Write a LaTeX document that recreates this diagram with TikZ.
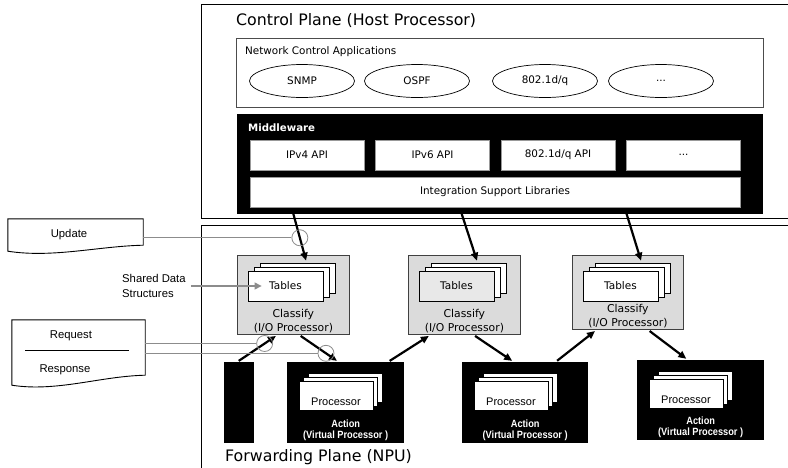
\documentclass[tikz,border=0pt]{standalone}
\usepackage{fontspec}
\setmainfont{DejaVu Sans}
\newfontfamily\arialfont{Liberation Sans}
\newfontfamily\narrowfont[FakeStretch=0.88]{Liberation Sans}
\usepackage{tikz}
\usetikzlibrary{calc}
\usetikzlibrary{arrows.meta}
\usetikzlibrary{shapes.geometric}
\newcommand{\docoutline}[2]{%
  \draw[docline] (#1.north west) -- (#1.north east) -- ([yshift=#2]#1.south east)
    .. controls +(-45,1) and +(45,7) .. (#1.south west) -- cycle;}
\newcommand{\tablestack}[3]{%
  \node[sheet] (#1-back) at ($(#2)+(60.5,23)$) {};
  \node[sheet] (#1-mid) at ($(#2)+(54.5,27)$) {};
  \node[sheet, fill=#3] (#1) at ($(#2)+(48.5,31)$) {Tables};}
\newcommand{\procstack}[2]{%
  \node[procsheet] (#1-back) at ($(#2)+(58,25.5)$) {};
  \node[procsheet] (#1-mid) at ($(#2)+(53.5,29.5)$) {};
  \node[procsheet] (#1) at ($(#2)+(49,33.5)$) {Processor};}
\tikzset{
    plane/.style={draw, line width=1.1pt, anchor=north west, inner sep=0},
    heading/.style={anchor=west, inner sep=0, font=\fontsize{15.8}{18}\selectfont},
    small/.style={font=\fontsize{10.4}{12}\selectfont},
    appbox/.style={draw=black!70, line width=0.9pt, anchor=north west},
    app/.style={small, draw, ellipse, line width=0.7pt, minimum width=105, minimum height=33},
    mwbox/.style={fill=black, anchor=north west},
    mwtitle/.style={anchor=west, inner sep=0, text=white, font=\fontsize{10.2}{12}\selectfont\bfseries},
    api/.style={small, fill=white, draw=black!40, line width=0.8pt, minimum width=114, minimum height=30},
    clstext/.style={anchor=south, align=center, inner sep=2pt, font=\fontsize{10.8}{14}\selectfont},
    clsbox/.style={draw=black!75, fill=black!14, line width=0.8pt, anchor=north west,
        label={[clstext]south:Classify\\(I/O Processor)}},
    sheet/.style={draw, fill=white, line width=0.8pt, minimum width=75, minimum height=30,
        font=\fontsize{10.5}{12}\selectfont},
    procsheet/.style={draw, fill=white, line width=0.8pt, minimum width=74, minimum height=29,
        inner ysep=2.5pt, text height=22pt, text depth=2pt, font=\arialfont\fontsize{11}{13}\selectfont},
    actbox/.style={fill=black, anchor=north west},
    acttext/.style={anchor=south, align=center, inner sep=3pt, text=white,
        font=\narrowfont\bfseries\fontsize{10.5}{11}\selectfont},
    action/.style={actbox, label={[acttext]south:Action\\(Virtual Processor )}},
    docbox/.style={inner sep=0},
    docline/.style={draw, line width=0.9pt},
    doctext/.style={font=\arialfont\fontsize{11.3}{15}\selectfont},
    flow/.style={line width=2.2pt, -{Triangle[length=8pt,width=7pt]}, shorten <=2pt, shorten >=2pt},
    feed/.style={draw=black!45, line width=1.1pt},
    hop/.style={draw=black!45, circle, line width=0.8pt, minimum size=16, inner sep=0}
}
\begin{document}
\begin{tikzpicture}[x=1pt, y=-1pt]
\useasboundingbox (0,0) rectangle (788,467);
\clip (0,0) rectangle (788,467);

% planes
\node[plane, minimum width=620, minimum height=214] (cp) at (201,4) {};
\node[plane, minimum width=620, minimum height=280] (fp) at (201,225) {};
\node[heading] (cp-title) at (236,21) {Control Plane (Host Processor)};
\node[heading] (fp-title) at (225,457) {Forwarding Plane (NPU)};

% control applications
\node[appbox, minimum width=527, minimum height=69] (nca) at (236,38) {};
\node[small, anchor=west, inner sep=0] (nca-title) at (245,52) {Network Control Applications};
\path
    (302,81) node[app] (snmp) {SNMP}
    ++(115,0) node[app] (ospf) {OSPF}
    ++(128,0) node[app] (dotq) {802.1d/q}
    ++(116,0) node[app] (more-app) {...};

% middleware
\node[mwbox, minimum width=526, minimum height=100] (mw) at (237,114) {};
\node[mwtitle] (mw-title) at (248,128) {Middleware};
\path
    (307,155) node[api] (ipv4) {IPv4 API}
    ++(125.5,0) node[api] (ipv6) {IPv6 API}
    ++(125.5,0) node[api] (dotq-api) {802.1d/q API}
    ++(125.5,0) node[api] (more-api) {...};
\node[api, minimum width=490] (isl) at (495,192) {Integration Support Libraries};

% classify blocks
\node[clsbox, minimum width=112, minimum height=79] (cls1) at (237,255) {};
\node[clsbox, minimum width=112, minimum height=79] (cls2) at (408,255) {};
\node[clsbox, minimum width=111, minimum height=74] (cls3) at (572,255) {};
\tablestack{tbl1}{cls1.north west}{white}
\tablestack{tbl2}{cls2.north west}{black!9}
\tablestack{tbl3}{cls3.north west}{white}

% action blocks
\node[actbox, minimum width=30, minimum height=81] (act0) at (224,362) {};
\node[action, minimum width=117, minimum height=81] (act1) at (287,362) {};
\node[action, minimum width=126, minimum height=81] (act2) at (462,362) {};
\node[action, minimum width=127, minimum height=80] (act3) at (637,360) {};
\procstack{proc1}{act1.north west}
\procstack{proc2}{act2.north west}
\procstack{proc3}{act3.north west}

% flows
\draw[flow] ($(isl.south west)+(42,0)$) -- coordinate[pos=0.55] (hop-upd)
    ($(tbl1-back.north west)!0.62!(tbl1-back.north east)$);
\draw[flow] ($(isl.south west)+(210,0)$) -- ($(tbl2-back.north west)!0.62!(tbl2-back.north east)$);
\draw[flow] ($(isl.south west)+(375,0)$) -- ($(tbl3-back.north west)!0.62!(tbl3-back.north east)$);

\draw[flow] ($(act0.north west)!0.43!(act0.north east)$) -- coordinate[pos=0.68] (hop-req)
    ($(cls1.south west)!0.36!(cls1.south east)$);
\draw[flow] ($(cls1.south west)!0.55!(cls1.south east)$) -- coordinate[pos=0.68] (hop-resp)
    ($(act1.north west)!0.44!(act1.north east)$);
\draw[flow] ($(act1.north west)!0.86!(act1.north east)$) -- ($(cls2.south west)!0.2!(cls2.south east)$);
\draw[flow] ($(cls2.south west)!0.58!(cls2.south east)$) -- ($(act2.north west)!0.41!(act2.north east)$);
\draw[flow] ($(act2.north west)!0.74!(act2.north east)$) -- ($(cls3.south west)!0.22!(cls3.south east)$);
\draw[flow] ($(cls3.south west)!0.68!(cls3.south east)$) -- ($(act3.north west)!0.4!(act3.north east)$);

% external feeds
\node[docbox, minimum width=135, minimum height=32,
    label={[doctext, xshift=-6.5pt]center:Update}] (update) at (75.5,235) {};
\docoutline{update}{6pt}
\node[docbox, minimum width=133, minimum height=65,
    label={[doctext, xshift=-7.5pt, yshift=16.5pt]center:Request},
    label={[doctext, xshift=-13.5pt, yshift=-17.5pt]center:Response}] (reqresp) at (78.5,352.5) {};
\docoutline{reqresp}{10pt}
\draw[docline] (reqresp.center) ++(-53.5,-2.5) -- ++(104,0);
\node[doctext, anchor=west, align=left, inner xsep=5pt] (shared) at (117,286) {Shared Data\\Structures};

\node[hop] (hop-upd-c) at (hop-upd) {};
\node[hop] (hop-req-c) at (hop-req) {};
\node[hop] (hop-resp-c) at (hop-resp) {};
\coordinate (tbl1-in) at ($(tbl1.west)+(14,0)$);

\draw[feed] (update.east |- hop-upd-c) -- (hop-upd-c);
\draw[feed] (reqresp.east |- hop-req-c) -- (hop-req-c);
\draw[feed] (reqresp.east |- hop-resp-c) -- (hop-resp-c);
\draw[feed, -{Triangle[length=7pt,width=7pt]}, black!45] (shared.east) -- (shared.east -| tbl1-in);
\end{tikzpicture}
\end{document}
